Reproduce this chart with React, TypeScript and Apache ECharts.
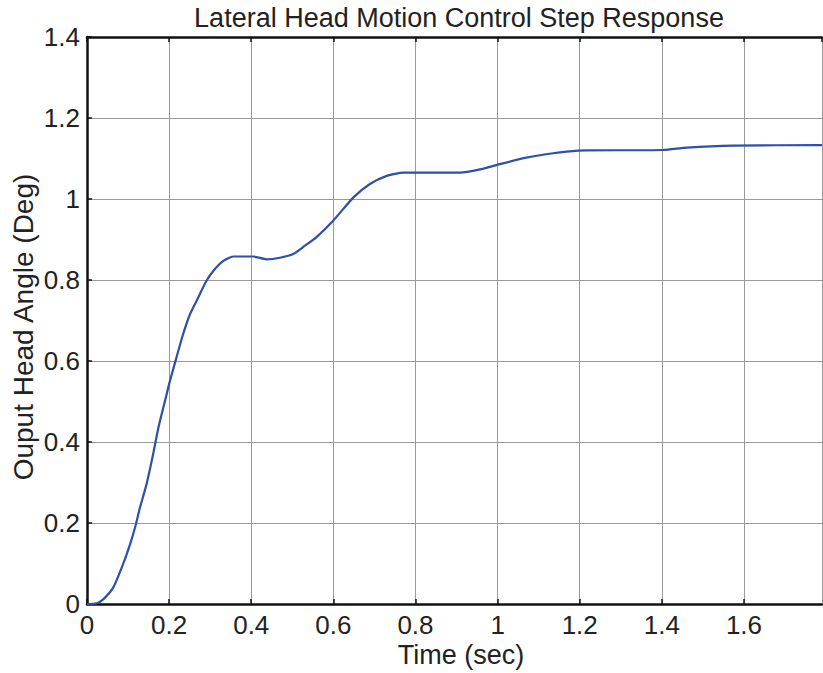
import React, { useEffect, useRef } from "react";
import * as echarts from "echarts";

const timeSec: number[] = [0, 0.024, 0.04, 0.064, 0.088, 0.105, 0.117, 0.129, 0.145, 0.161, 0.174, 0.19, 0.202, 0.218, 0.234, 0.251, 0.267, 0.291, 0.308, 0.332, 0.356, 0.405, 0.437, 0.47, 0.502, 0.53, 0.559, 0.6, 0.649, 0.689, 0.73, 0.77, 0.908, 0.957, 1.005, 1.07, 1.135, 1.168, 1.216, 1.403, 1.46, 1.573, 1.79];
const headAngle: number[] = [0, 0.002, 0.012, 0.041, 0.099, 0.148, 0.189, 0.238, 0.296, 0.37, 0.436, 0.502, 0.551, 0.609, 0.666, 0.716, 0.749, 0.798, 0.823, 0.847, 0.858, 0.858, 0.851, 0.855, 0.864, 0.884, 0.906, 0.947, 1.004, 1.037, 1.057, 1.065, 1.065, 1.073, 1.086, 1.102, 1.113, 1.117, 1.12, 1.121, 1.127, 1.132, 1.133];

const titleText = "Lateral Head Motion Control Step Response";
const xName = "Time (sec)";
const yName = "Ouput Head Angle (Deg)";

const FONT = "'Liberation Sans', Arial, sans-serif";
const TXT = "#222";

export default function App() {
  const ref = useRef<HTMLDivElement>(null);
  useEffect(() => {
    document.body.style.margin = "0";
    if (!ref.current) return;
    const chart = echarts.init(ref.current, undefined, { renderer: "svg" });
    const data = timeSec.map((t, i) => [t, headAngle[i]]);
    chart.setOption({
      animation: false,
      backgroundColor: "#fff",
      textStyle: { fontFamily: FONT },
      graphic: [
        {
          type: "text",
          x: 459,
          y: 18,
          style: { text: titleText, fontSize: 27, fill: TXT, fontFamily: FONT, textAlign: "center", textVerticalAlign: "middle" },
        },
        {
          type: "text",
          x: 461,
          y: 655,
          style: { text: xName, fontSize: 27, fill: TXT, fontFamily: FONT, textAlign: "center", textVerticalAlign: "middle" },
        },
        {
          type: "text",
          x: 23,
          y: 327,
          rotation: Math.PI / 2,
          style: { text: yName, fontSize: 28, fill: TXT, fontFamily: FONT, textAlign: "center", textVerticalAlign: "middle" },
        },
      ],
      grid: { left: 87, right: 1, top: 37, bottom: 69, containLabel: false, outerBoundsMode: "none" },
      xAxis: [
        {
          type: "value",
          min: 0,
          max: 1.79,
          interval: 0.2,
          position: "bottom",
          axisLine: { show: true, lineStyle: { color: "#111", width: 2.5 } },
          axisTick: { show: true, inside: true, length: 5, lineStyle: { color: "#111", width: 1.5 } },
          axisLabel: { fontSize: 26, color: TXT, margin: 8, fontFamily: FONT, showMaxLabel: false },
          splitLine: { show: true, lineStyle: { color: "#9a9a9a", width: 1 } },
        },
        {
          type: "value",
          min: 0,
          max: 1.79,
          interval: 0.2,
          position: "top",
          axisLine: { show: true, lineStyle: { color: "#111", width: 2.5 } },
          axisTick: { show: true, inside: true, length: 5, lineStyle: { color: "#111", width: 1.5 } },
          axisLabel: { show: false },
          splitLine: { show: false },
        },
      ],
      yAxis: {
        type: "value",
        min: 0,
        max: 1.4,
        interval: 0.2,
        axisLine: { show: true, lineStyle: { color: "#111", width: 2.5 } },
        axisTick: { show: true, inside: true, length: 5, lineStyle: { color: "#111", width: 1.5 } },
        axisLabel: { fontSize: 26, color: TXT, margin: 7, fontFamily: FONT },
        splitLine: { show: true, lineStyle: { color: "#9a9a9a", width: 1 } },
      },
      series: [
        {
          type: "line",
          xAxisIndex: 0,
          data,
          showSymbol: false,
          smooth: 0.2,
          lineStyle: { color: "#2e4faa", width: 2.2 },
        },
      ],
    });
    return () => chart.dispose();
  }, []);
  return <div ref={ref} style={{ width: 823, height: 673 }} />;
}
